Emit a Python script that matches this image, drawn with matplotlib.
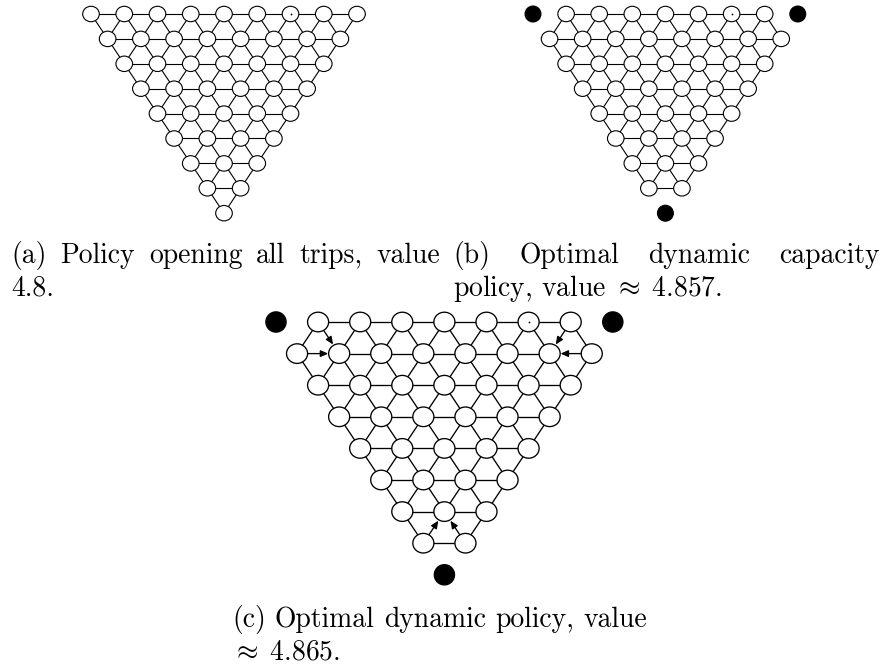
import matplotlib
matplotlib.use("Agg")
import matplotlib.pyplot as plt
from matplotlib.patches import Ellipse, FancyArrowPatch

plt.rcParams['font.family'] = 'cmr10'
plt.rcParams['mathtext.fontset'] = 'cm'
plt.rcParams['axes.unicode_minus'] = False

# node states of each triangle, top row first ('o' = open trip, 'x' = closed corner)
rows_a = ["ooooooooo", "oooooooo", "ooooooo", "oooooo", "ooooo", "oooo", "ooo", "oo", "o"]
rows_b = ["xooooooox", "oooooooo", "ooooooo", "oooooo", "ooooo", "oooo", "ooo", "oo", "x"]
rows_c = ["xooooooox", "oooooooo", "ooooooo", "oooooo", "ooooo", "oooo", "ooo", "oo", "x"]

# directed edges in panel (c), (row, index) -> (row, index)
arrows_c = [((0, 1), (1, 1)), ((1, 0), (1, 1)),
            ((0, 7), (1, 6)), ((1, 7), (1, 6)),
            ((7, 0), (6, 1)), ((7, 1), (6, 1))]
dot_node = (0, 6)

cap_a = ["(a) Policy opening all trips, value", "4.8."]
cap_b = ["(b) Optimal dynamic capacity", r"policy, value $\approx\;$4.857."]
cap_c = ["(c) Optimal dynamic policy, value", r"$\approx\;$4.865."]

W, H = 883, 671
fig = plt.figure(figsize=(W / 100, H / 100), dpi=100)


def pos(r, k):
    return r / 2 + k, r


def draw_triangle(rows, x0, y0, dx, dy, arrows=(), lw=0.8):
    # x0, y0 = pixel position of the top-left node, dx, dy = pixel spacing
    ax = fig.add_axes([(x0 - 0.5 * dx) / W, 1 - (y0 + 8.5 * dy) / H, 9 * dx / W, 9 * dy / H])
    ax.set_xlim(-0.5, 8.5)
    ax.set_ylim(8.5, -0.5)
    ax.axis('off')

    def is_open(r, k):
        return 0 <= r < len(rows) and 0 <= k < len(rows[r]) and rows[r][k] == 'o'

    arrow_set = set(arrows) | set((b, a) for a, b in arrows)
    for r, row in enumerate(rows):
        for k, s in enumerate(row):
            if s != 'o':
                continue
            for nb in [(r, k + 1), (r + 1, k), (r + 1, k - 1)]:
                if is_open(*nb) and ((r, k), nb) not in arrow_set:
                    (xa, ya), (xb, yb) = pos(r, k), pos(*nb)
                    ax.plot([xa, xb], [ya, yb], color='black', lw=lw, zorder=1,
                            solid_capstyle='butt')

    rad = 0.25 * dx * 0.72  # node radius in points
    for a, b in arrows:
        ar = FancyArrowPatch(pos(*a), pos(*b), arrowstyle='-|>,head_length=0.45,head_width=0.2',
                             mutation_scale=10, shrinkA=0, shrinkB=rad + 0.3,
                             color='black', lw=lw, zorder=2)
        ax.add_patch(ar)

    for r, row in enumerate(rows):
        for k, s in enumerate(row):
            x, y = pos(r, k)
            if s == 'o':
                ax.add_patch(Ellipse((x, y), 0.5, 0.62, facecolor='white', edgecolor='black',
                                     lw=lw, zorder=3))
            else:
                ax.add_patch(Ellipse((x, y), 0.48, 0.64, facecolor='black', edgecolor='black',
                                     lw=lw, zorder=3))
    ax.plot(*pos(*dot_node), marker='o', markersize=1.3, markeredgewidth=0,
            color='black', zorder=4)
    return ax


draw_triangle(rows_a, 91, 14, 33.25, 24.9)
draw_triangle(rows_b, 533, 14, 33.1, 24.9)
draw_triangle(rows_c, 276, 322, 42.1, 31.6, arrows=arrows_c, lw=0.95)

# captions, placed in pixel coordinates
tax = fig.add_axes([0, 0, 1, 1])
tax.set_xlim(0, W)
tax.set_ylim(H, 0)
tax.axis('off')
fs = 19.9
renderer = fig.canvas.get_renderer()


def caption(lines, x0, x1, y, justify=True):
    words = lines[0].split(" ")
    arts = [tax.text(0, y, w, fontsize=fs, va='baseline', ha='left') for w in words]
    widths = [a.get_window_extent(renderer).width for a in arts]
    gap = (x1 - x0 - sum(widths)) / (len(words) - 1) if justify else fs * 0.333 * 100 / 72
    x = x0
    for a, w in zip(arts, widths):
        a.set_x(x)
        x += w + gap
    tax.text(x0, y + 33, lines[1], fontsize=fs, va='baseline', ha='left')


caption(cap_a, 11, 440, 263)
caption(cap_b, 453, 880, 263)
caption(cap_c, 232, 660, 627, justify=False)

fig.savefig("out.png", dpi=100)
